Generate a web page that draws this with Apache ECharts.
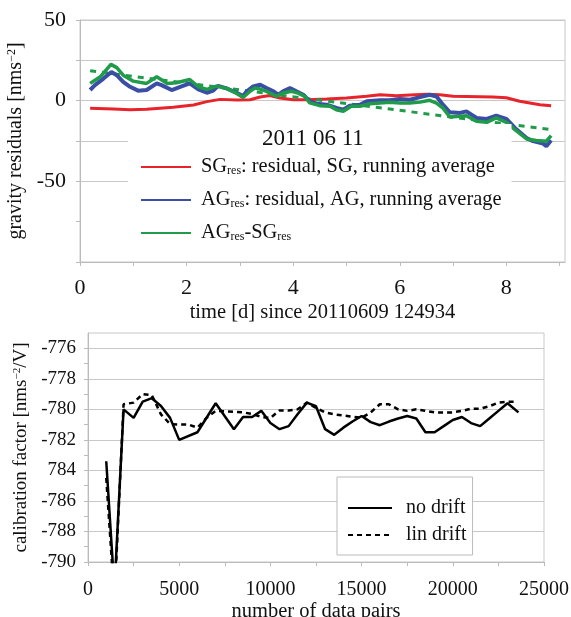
<!DOCTYPE html>
<html>
<head>
<meta charset="utf-8">
<script src="https://cdn.jsdelivr.net/npm/echarts@6/dist/echarts.min.js"></script>
<style>html,body{margin:0;padding:0;background:#fff}#c{width:571px;height:617px}</style>
</head>
<body>
<div id="c"></div>
<script>
// ---- top panel data: time [d], residual [nm/s^2]
const sgRes = [[0.19,-4.7],[0.63,-5.1],[0.94,-5.7],[1.25,-5.3],[1.75,-4.1],[2.13,-2.7],[2.38,-0.6],[2.63,0.8],[2.94,0.4],[3.19,0.6],[3.38,2.3],[3.56,3.2],[3.75,1.6],[4.0,0.6],[4.25,0.6],[4.63,1.0],[5.0,1.6],[5.38,2.7],[5.63,3.7],[5.94,3.1],[6.19,3.5],[6.5,4.0],[6.75,3.7],[7.0,2.7],[7.75,2.2],[8.0,1.8],[8.25,-0.4],[8.63,-2.5],[8.84,-3.1]];
const agRes = [[0.19,6.6],[0.28,9.6],[0.44,13.7],[0.59,17.8],[0.69,15.8],[0.81,11.7],[0.94,8.6],[1.09,6.2],[1.25,6.6],[1.44,10.7],[1.53,9.6],[1.72,6.6],[1.88,8.6],[2.06,10.7],[2.22,7.0],[2.38,4.9],[2.5,6.2],[2.59,9.2],[2.75,7.6],[2.94,4.9],[3.06,2.9],[3.13,5.8],[3.25,8.8],[3.38,9.9],[3.5,7.8],[3.63,5.8],[3.72,3.7],[3.81,5.8],[3.94,7.8],[4.06,5.8],[4.19,3.7],[4.31,-0.4],[4.44,-1.9],[4.63,-2.5],[4.81,-4.5],[4.94,-5.6],[5.06,-3.1],[5.25,-2.5],[5.38,-0.4],[5.63,0.2],[5.81,0.2],[6.0,1.0],[6.19,0.6],[6.38,2.2],[6.56,3.7],[6.69,2.6],[6.81,-2.5],[6.94,-7.2],[7.13,-7.6],[7.25,-6.6],[7.44,-10.7],[7.63,-11.3],[7.81,-9.3],[8.0,-11.3],[8.16,-16.9],[8.38,-23.1],[8.5,-25.1],[8.69,-26.6],[8.75,-28.2],[8.84,-24.5]];
const agMinusSg = [[0.19,10.7],[0.38,14.8],[0.58,22.5],[0.69,20.5],[0.81,15.8],[1.0,12.1],[1.25,10.7],[1.44,14.8],[1.63,10.7],[1.81,11.1],[2.06,13.1],[2.22,8.6],[2.38,7.0],[2.56,9.0],[2.75,7.6],[2.94,4.5],[3.06,2.0],[3.19,5.8],[3.28,7.8],[3.38,7.2],[3.5,5.8],[3.69,2.7],[3.81,4.7],[3.97,5.8],[4.09,4.7],[4.22,2.7],[4.31,-1.4],[4.5,-3.1],[4.69,-3.5],[4.81,-5.6],[4.94,-6.6],[5.09,-3.5],[5.25,-3.5],[5.44,-1.9],[5.63,-1.4],[5.81,-1.0],[6.0,-1.4],[6.19,-1.5],[6.38,-0.9],[6.56,0.2],[6.69,-1.5],[6.81,-4.6],[6.94,-10.1],[7.13,-9.7],[7.25,-9.3],[7.44,-12.8],[7.63,-13.4],[7.81,-10.7],[8.0,-13.4],[8.16,-17.9],[8.38,-23.7],[8.56,-24.7],[8.75,-25.1],[8.84,-21.6]];
const agMinusSgTrend = [[0.19,18.5],[8.84,-18.0]];

// ---- bottom panel data: number of data pairs, calibration factor
const pairs = [1000,1450,1950,2500,3000,3500,4000,4500,5000,6000,7000,8000,8500,9000,9500,10000,10500,11000,11500,12000,12500,13000,13500,14000,14500,15000,15500,16000,16500,17000,17500,18000,18500,19000,19500,20000,20500,21000,21500,22000,22500,23000,23600];
const noDrift = [-783.4,-791.8,-780.0,-780.56,-779.5,-779.27,-779.78,-780.56,-782.0,-781.5,-779.6,-781.3,-780.5,-780.5,-780.1,-780.9,-781.3,-781.1,-780.3,-779.56,-779.8,-781.3,-781.67,-781.2,-780.8,-780.44,-780.84,-781.04,-780.8,-780.6,-780.44,-780.6,-781.5,-781.5,-781.1,-780.7,-780.5,-780.9,-781.1,-780.6,-780.1,-779.6,-780.2];
const pairsLin = [1000,1450,1950,2500,3000,3500,4000,4500,5000,5500,6000,6500,7000,8500,9000,9500,10000,10500,11000,11500,12000,12500,13000,13500,14000,15000,15500,16000,16500,17000,17500,18000,18500,19000,20000,20500,21000,21500,22000,22500,23000,23400];
const linDrift = [-784.5,-792.5,-779.67,-779.56,-779.0,-779.07,-780.33,-780.96,-781.0,-781.0,-781.2,-780.56,-780.1,-780.2,-780.3,-780.5,-780.56,-780.07,-780.07,-780.0,-779.56,-779.9,-780.2,-780.33,-780.4,-780.56,-780.2,-779.67,-779.67,-780.0,-780.1,-780.0,-780.1,-780.2,-780.2,-780.1,-779.96,-779.96,-779.8,-779.56,-779.5,-779.5];

// ---- tick labels
const topXLabels = {0:'0',2:'2',4:'4',6:'6',8:'8'};
const topYLabels = {50:'50',0:'0','-50':'-50'};
const botXLabels = {0:'0',5000:'5000',10000:'10000',15000:'15000',20000:'20000',25000:'25000'};
const botYLabels = {'-776':'-776','-778':'-778','-780':'-780','-782':'-782','-784':'784','-786':'-786','-788':'-788','-790':'-790'};

const FONT = 'Liberation Serif';
const GRID = '#c8c8c8';
const zip = (xs, ys) => xs.map((x, i) => [x, ys[i]]);

const chart = echarts.init(document.getElementById('c'), null, {renderer: 'canvas'});
chart.setOption({
  backgroundColor: '#ffffff',
  animation: false,
  textStyle: {fontFamily: FONT, color: '#111'},
  grid: [
    {left: 80, top: 20, width: 485, height: 242, outerBoundsMode: 'none', containLabel: false,
     show: true, borderColor: GRID, borderWidth: 1, backgroundColor: 'transparent'},
    {left: 88, top: 333, width: 456, height: 229, outerBoundsMode: 'none', containLabel: false,
     show: true, borderColor: GRID, borderWidth: 1, backgroundColor: 'transparent'}
  ],
  xAxis: [
    {gridIndex: 0, type: 'value', min: 0, max: 9.1, interval: 1,
     axisLine: {onZero: false, lineStyle: {color: '#bbb'}},
     axisTick: {show: true, length: 4, lineStyle: {color: '#bbb'}},
     splitLine: {show: false},
     axisLabel: {margin: 15, fontFamily: FONT, fontSize: 22, color: '#111', showMaxLabel: false,
       formatter: v => topXLabels[v] !== undefined ? topXLabels[v] : ''},
     name: 'time [d] since 20110609 124934', nameLocation: 'middle', nameGap: 40,
     nameTextStyle: {fontFamily: FONT, fontSize: 20.5, color: '#111'}},
    {gridIndex: 1, type: 'value', min: 0, max: 25000, interval: 2500,
     axisLine: {onZero: false, lineStyle: {color: '#bbb'}},
     axisTick: {show: true, length: 4, lineStyle: {color: '#bbb'}},
     splitLine: {show: false},
     axisLabel: {margin: 18, fontFamily: FONT, fontSize: 20, color: '#111',
       formatter: v => botXLabels[v] !== undefined ? botXLabels[v] : ''},
     name: 'number of data pairs', nameLocation: 'middle', nameGap: 38,
     nameTextStyle: {fontFamily: FONT, fontSize: 20.5, color: '#111'}}
  ],
  yAxis: [
    {gridIndex: 0, type: 'value', min: -100, max: 50, interval: 25,
     axisLine: {show: true, onZero: false, lineStyle: {color: '#bbb'}},
     axisTick: {show: true, length: 4, lineStyle: {color: '#bbb'}},
     splitLine: {show: true, lineStyle: {color: [GRID, 'rgba(0,0,0,0)', GRID, GRID, GRID, GRID, GRID], width: 1}},
     axisLabel: {margin: 14, fontFamily: FONT, fontSize: 22, color: '#111',
       formatter: v => topYLabels[v] !== undefined ? topYLabels[v] : ''},
     name: '{a|gravity residuals [nms}{s|−2}{a|]}', nameLocation: 'middle', nameGap: 35,
     nameTextStyle: {fontFamily: FONT, fontSize: 20, color: '#111',
       rich: {a: {fontFamily: FONT, fontSize: 20, color: '#111'}, s: {fontFamily: FONT, fontSize: 12, color: '#111', padding: [0, 0, 8, 0]}}}},
    {gridIndex: 1, type: 'value', min: -790, max: -775, interval: 1,
     axisLine: {show: true, onZero: false, lineStyle: {color: '#bbb'}},
     axisTick: {show: true, length: 4, lineStyle: {color: '#bbb'}},
     splitLine: {show: true, lineStyle: {color: [GRID, 'rgba(0,0,0,0)'], width: 1}},
     axisLabel: {margin: 12, fontFamily: FONT, fontSize: 19, color: '#111', showMaxLabel: false,
       formatter: v => botYLabels[v] !== undefined ? botYLabels[v] : ''},
     name: '{a|calibration factor [nms}{s|−2}{a|/V]}', nameLocation: 'middle', nameGap: 46,
     nameTextStyle: {fontFamily: FONT, fontSize: 19, color: '#111',
       rich: {a: {fontFamily: FONT, fontSize: 19, color: '#111'}, s: {fontFamily: FONT, fontSize: 11, color: '#111', padding: [0, 0, 8, 0]}}}}
  ],
  legend: [
    {orient: 'vertical', left: 128, top: 124, padding: [33, 10, 12, 12], backgroundColor: '#ffffff',
     itemWidth: 50, itemHeight: 14, itemGap: 13,
     itemStyle: {opacity: 0},
     data: ['SG', 'AG', 'AGSG'],
     formatter: n => n === 'SG' ? '{n|SG}{s|res}{n|: residual, SG, running average}'
                  : n === 'AG' ? '{n|AG}{s|res}{n|: residual, AG, running average}'
                  : '{n|AG}{s|res}{n|-SG}{s|res}',
     textStyle: {fontFamily: FONT, color: '#111', fontSize: 20, padding: [0, 0, 0, 5],
       rich: {n: {fontFamily: FONT, fontSize: 20.4, color: '#111', lineHeight: 20},
              s: {fontFamily: FONT, fontSize: 12, color: '#111', padding: [8, 0, 0, 0], lineHeight: 20}}}},
    {orient: 'vertical', left: 337, top: 477, padding: [21, 6, 10, 10], backgroundColor: '#ffffff',
     borderColor: '#bbb', borderWidth: 1,
     itemWidth: 44, itemHeight: 14, itemGap: 7,
     itemStyle: {opacity: 0},
     data: ['no drift', 'lin drift'],
     textStyle: {fontFamily: FONT, color: '#111', fontSize: 20, padding: [0, 0, 0, 9]}}
  ],
  graphic: [
    {type: 'text', left: 262, top: 127, z: 100,
     style: {text: '2011 06 11', font: '23px "Liberation Serif"', fill: '#111'}}
  ],
  series: [
    {name: 'SG', type: 'line', xAxisIndex: 0, yAxisIndex: 0, data: sgRes, symbol: 'none', smooth: false,
     lineStyle: {color: '#e8232b', width: 3}, itemStyle: {color: '#e8232b'}},
    {name: 'AGtrend', type: 'line', xAxisIndex: 0, yAxisIndex: 0, data: agMinusSgTrend, symbol: 'none',
     lineStyle: {color: '#1f9b4a', width: 3, type: [6, 6]}, itemStyle: {color: '#1f9b4a'}},
    {name: 'AG', type: 'line', xAxisIndex: 0, yAxisIndex: 0, data: agRes, symbol: 'none',
     lineStyle: {color: '#3a4ea5', width: 4}, itemStyle: {color: '#3a4ea5'}},
    {name: 'AGSG', type: 'line', xAxisIndex: 0, yAxisIndex: 0, data: agMinusSg, symbol: 'none',
     lineStyle: {color: '#1f9b4a', width: 3.5}, itemStyle: {color: '#1f9b4a'}},
    {name: 'no drift', type: 'line', xAxisIndex: 1, yAxisIndex: 1, data: zip(pairs, noDrift), symbol: 'none',
     lineStyle: {color: '#000', width: 2.5}, itemStyle: {color: '#000'}},
    {name: 'lin drift', type: 'line', xAxisIndex: 1, yAxisIndex: 1, data: zip(pairsLin, linDrift), symbol: 'none',
     lineStyle: {color: '#000', width: 2.5, type: [5, 4]}, itemStyle: {color: '#000'}}
  ]
});
</script>
</body>
</html>
